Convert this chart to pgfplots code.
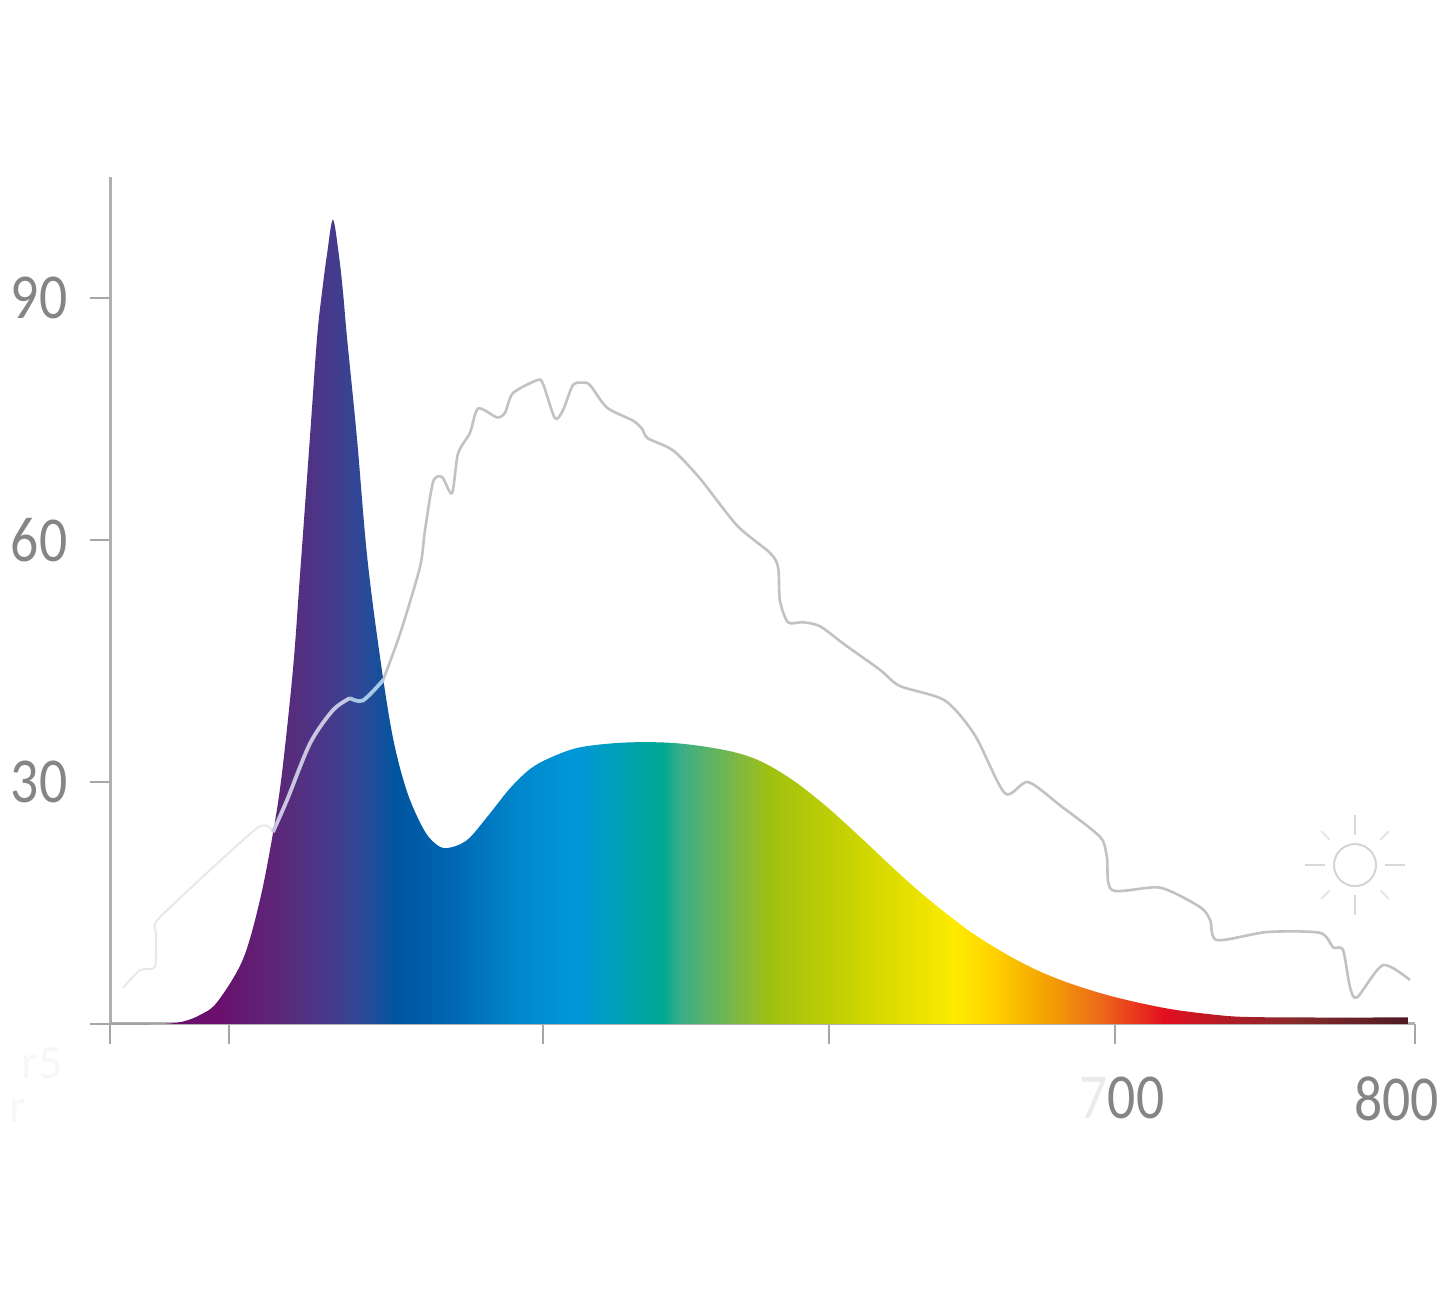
\documentclass[border=0pt]{standalone}
\usepackage{fontspec}
\setmainfont{Carlito}
\usepackage{pgfplots}
\usepackage{pgfplotstable}
\pgfplotsset{compat=1.18}

% stops: 25bp..75bp of the shading is the width of the filled shape
\definecolor{sa}{HTML}{6A0F6B}
\definecolor{sb}{HTML}{5A2A7A}
\definecolor{sc}{HTML}{463A8C}
\definecolor{sd}{HTML}{2A4A98}
\definecolor{se}{HTML}{00559F}
\definecolor{sf}{HTML}{0066B3}
\definecolor{sg}{HTML}{0088CC}
\definecolor{sh}{HTML}{0098DA}
\definecolor{si}{HTML}{00A890}
\definecolor{sj}{HTML}{3BAE88}
\definecolor{sjj}{HTML}{82B93E}
\definecolor{sk}{HTML}{A0C010}
\definecolor{sl}{HTML}{CDD500}
\definecolor{sm}{HTML}{FDEB00}
\definecolor{sn}{HTML}{FFD800}
\definecolor{so}{HTML}{F5A800}
\definecolor{sp}{HTML}{ED6A1A}
\definecolor{spp}{HTML}{E8301E}
\definecolor{sq}{HTML}{E30F20}
\definecolor{sr}{HTML}{B01C26}
\definecolor{ss}{HTML}{852A2A}
\definecolor{st}{HTML}{4D1A24}
\pgfdeclarehorizontalshading{spectrum}{100bp}{
  color(0bp)=(sa); color(29.1bp)=(sa); color(31.7bp)=(sb); color(33.5bp)=(sc);
  color(34.8bp)=(sd); color(36bp)=(se); color(38.1bp)=(sf); color(40.8bp)=(sg);
  color(43bp)=(sh); color(46.3bp)=(si); color(47bp)=(sj); color(49.3bp)=(sjj);
  color(50.4bp)=(sk); color(53.9bp)=(sl); color(57.5bp)=(sm); color(58.7bp)=(sn);
  color(60.8bp)=(so); color(63.1bp)=(sp); color(64.7bp)=(spp); color(65.6bp)=(sq);
  color(68.1bp)=(sr); color(70.8bp)=(ss); color(75bp)=(st); color(100bp)=(st)}

\definecolor{axisgray}{HTML}{B0B0B0}
\definecolor{tickgray}{HTML}{A6A6A6}
\definecolor{labelgray}{HTML}{858585}

\pgfplotstableread{
nm val
365.0 0
378.3 0
385.0 0.06
390.0 0.37
395.0 1.12
400.7 2.70
409.3 8.0
415.0 15.4
419.3 23.6
422.3 31.0
426.0 44.0
428.3 55.5
431.7 73.0
434.0 85.0
435.7 90.8
437.3 95.3
439.3 99.7
441.3 95.3
442.7 90.6
444.0 85.1
447.3 72.7
450.7 58.0
455.0 45.5
459.3 35.5
464.0 28.8
469.3 24.3
473.3 22.4
477.3 21.8
484.0 22.8
491.0 25.8
498.3 29.2
505.0 31.6
511.7 33.0
521.7 34.3
537.3 34.9
554.0 34.8
570.7 33.9
581.7 32.6
592.7 30.2
604.0 26.9
615.0 23.2
625.0 19.7
633.3 16.9
641.7 14.3
652.7 11.2
664.0 8.6
675.0 6.5
686.0 4.9
697.3 3.6
708.3 2.6
719.3 1.8
730.7 1.25
741.7 0.9
761.7 0.81
797.7 0.81
}\spectrumdata

\pgfplotstableread{
nm val
369.3 4.46
375.0 6.69
380.0 7.06
380.3 11.27
381.7 13.26
414.0 24.28
419.3 23.79
}\sunleft

\pgfplotstableread{
nm val
419.3 23.79
424.0 27.75
431.7 34.8
439.3 38.9
445.0 40.4
}\sunmida

\pgfplotstableread{
nm val
445.0 40.4
449.3 40.1
456.0 42.6
}\sunmidb

\pgfplotstableread{
nm val
456.0 42.6
461.7 48.4
468.3 56.6
470.0 61.2
472.7 67.2
475.7 67.8
479.0 65.8
481.0 70.7
485.0 73.3
487.7 76.3
494.0 75.2
496.7 75.8
499.3 78.2
507.3 79.8
509.3 79.4
513.3 75.1
516.0 76.1
519.3 79.2
522.7 79.5
525.0 79.2
530.7 76.4
539.3 74.8
542.3 73.8
544.3 72.6
552.7 71.1
561.7 67.6
574.0 61.8
585.0 58.4
587.7 56.6
588.3 52.5
591.0 49.8
596.0 49.8
601.7 49.3
610.0 47.0
621.7 43.9
628.3 41.9
643.3 40.1
653.3 35.8
663.3 28.6
671.0 30.0
681.7 27.1
695.0 23.2
697.3 20.7
699.0 16.6
715.0 16.9
728.3 14.5
731.7 12.9
734.0 10.4
750.7 11.4
768.3 11.3
772.7 9.5
776.0 9.2
778.3 4.6
780.7 3.3
789.3 7.3
798.3 5.45
}\sunright

\begin{document}
\begin{tikzpicture}[x=1pt,y=1pt]
\useasboundingbox (0,0) rectangle (722.5,650.5);
\begin{axis}[
    at={(55pt,138.5pt)},
    anchor=origin,
    scale only axis,
    width=652.5pt,
    height=423.5pt,
    xmin=365, xmax=800,
    ymin=0, ymax=105,
    clip=false,
    axis x line=bottom,
    axis y line=left,
    axis line style={-,draw=axisgray,line width=1.5pt},
    tick align=outside,
    major tick length=10pt,
    tick style={draw=tickgray,line width=1pt},
    xtick={365,404.7,509.3,604.7,700,800},
    xticklabels={,,,,{\hspace*{8pt}\textcolor{black!8}{7}00},{800\hspace*{21pt}}},
    ytick={0,30,60,90},
    yticklabels={,30,60,90},
    tick label style={font=\fontsize{32}{32}\selectfont,text=labelgray,xscale=0.87},
    xticklabel style={yshift=-13pt},
    yticklabel style={xshift=-9.5pt},
]
\addplot[draw=none,shading=spectrum,smooth,tension=0.55] table[x=nm,y=val] {\spectrumdata} \closedcycle;
\addplot[draw=black!9,line width=1pt,smooth,tension=0.35] table[x=nm,y=val] {\sunleft};
\addplot[draw=black!24,line width=1.3pt,smooth,tension=0.45] table[x=nm,y=val] {\sunright};
\addplot[draw={rgb,255:red,201;green,198;blue,226},line width=1.9pt,smooth,tension=0.5] table[x=nm,y=val] {\sunmida};
\addplot[draw={rgb,255:red,168;green,200;blue,228},line width=1.9pt,smooth,tension=0.5] table[x=nm,y=val] {\sunmidb};
% sun icon
\draw[black!17,line width=1pt] (axis cs:780,19.7) circle[radius=10.5pt];
\pgfplotsinvokeforeach{0,90,180,270}{
  \draw[black!15,line width=1pt] ([shift={(#1:15pt)}]axis cs:780,19.7) -- ([shift={(#1:25pt)}]axis cs:780,19.7);
}
\pgfplotsinvokeforeach{45,135,225,315}{
  \draw[black!10,line width=1pt] ([shift={(#1:18pt)}]axis cs:780,19.7) -- ([shift={(#1:24pt)}]axis cs:780,19.7);
}
\end{axis}
% washed out remains of the old labels
\node[text=black!3,font=\fontsize{24}{24}\selectfont] at (21,119) {r5};
\node[text=black!3,font=\fontsize{24}{24}\selectfont] at (9,95) {r};
\end{tikzpicture}
\end{document}
